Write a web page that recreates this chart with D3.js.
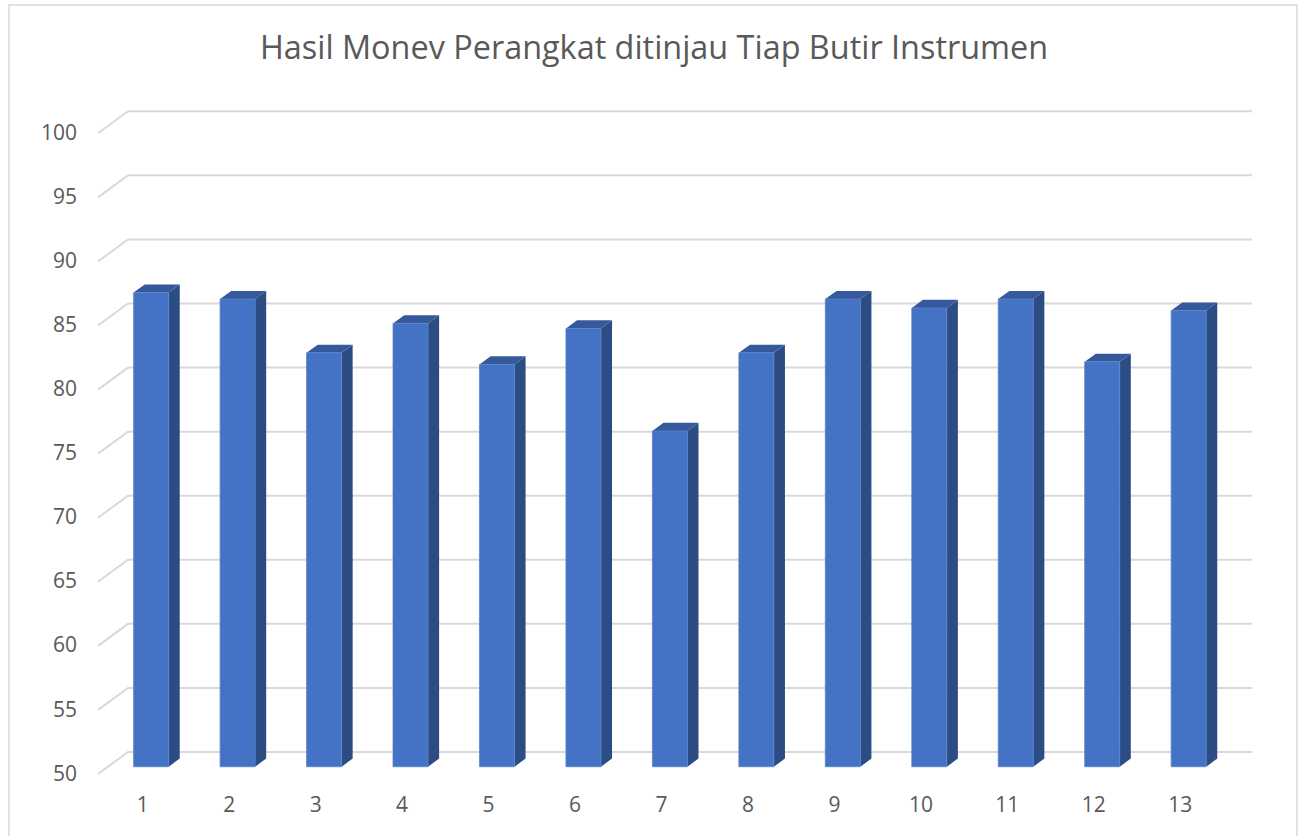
<!DOCTYPE html>
<html>
<head>
<meta charset="utf-8">
<script src="https://cdn.jsdelivr.net/npm/d3@7"></script>
<style>
    body { margin: 0; background: #fff; }
    svg { display: block; font-family: "Open Sans", "Noto Sans", sans-serif; }
</style>
</head>
<body>
<div id="chart-div"></div>
<script>
//---------------------------------//
// Chart data                      //
//---------------------------------//

const chartTitle = 'Hasil Monev Perangkat ditinjau Tiap Butir Instrumen';
const categories = ['1', '2', '3', '4', '5', '6', '7', '8', '9', '10', '11', '12', '13'];
const values = [87.0, 86.5, 82.3, 84.6, 81.4, 84.2, 76.2, 82.3, 86.5, 85.8, 86.5, 81.6, 85.6];
const yTicks = [50, 55, 60, 65, 70, 75, 80, 85, 90, 95, 100];

window.Vis = window.Vis || {};

Vis.init = function() {
    Vis.setup.initConsts();
    Vis.setup.initGraph();

    Vis.core.drawFrame();
    Vis.core.drawGrid();
    Vis.core.drawBars();
    Vis.core.drawLabels();
};

Vis.setup = {
    initConsts: function() {
        Vis.width = 1299;
        Vis.height = 836;

        // 3d offset of the floor, front edge -> back wall
        Vis.depthX = 30;
        Vis.depthY = -22;

        // bars sit between these depth fractions
        Vis.barFront = 0.33;
        Vis.barBack = 0.70;
        Vis.barWidth = 35;

        Vis.gridColor = '#d9d9d9';
        Vis.textColor = '#595959';
    },

    initGraph: function() {
        Vis.svg = d3.select('#chart-div')
                    .append('svg')
                     .attr('width', Vis.width)
                     .attr('height', Vis.height);

        // scales for the front plane
        Vis.x = d3.scaleBand()
                  .domain(categories)
                  .range([98, 1222]);
        Vis.y = d3.scaleLinear()
                  .domain([50, 100])
                  .range([774, 133.3]);
    },
};

Vis.helpers = {
    // project (x on front plane, value, depth 0..1) to screen
    pt: function(x, v, z) {
        return [x + Vis.depthX*z, Vis.y(v) + Vis.depthY*z];
    },

    poly: function(points) {
        return 'M' + points.map(p => p.join(',')).join('L') + 'Z';
    },
};

Vis.core = {
    drawFrame: function() {
        Vis.svg.append('rect')
               .attr('x', 9).attr('y', 5)
               .attr('width', 1288).attr('height', 850)
               .attr('fill', 'none')
               .attr('stroke', Vis.gridColor)
               .attr('stroke-width', 1.5);

        Vis.svg.append('text')
               .attr('x', 654).attr('y', 59)
               .attr('text-anchor', 'middle')
               .attr('fill', Vis.textColor)
               .style('font-size', '32.4px')
               .text(chartTitle);
    },

    drawGrid: function() {
        const x0 = Vis.x.range()[0];
        const x1 = Vis.x.range()[1];

        Vis.svg.append('g')
               .selectAll('path')
               .data(yTicks)
               .join('path')
                .attr('d', function(v) {
                    const a = Vis.helpers.pt(x0, v, 0);
                    const b = Vis.helpers.pt(x0, v, 1);
                    const c = Vis.helpers.pt(x1, v, 1);
                    return 'M' + a + 'L' + b + 'L' + c;
                })
                .attr('fill', 'none')
                .attr('stroke', Vis.gridColor)
                .attr('stroke-width', 2);
    },

    drawBars: function() {
        const zf = Vis.barFront;
        const zb = Vis.barBack;
        const pad = (Vis.x.bandwidth() - Vis.barWidth) / 2;

        const bars = Vis.svg.append('g')
                            .selectAll('g')
                            .data(categories.map((c, i) => ({cat: c, val: values[i]})))
                            .join('g');

        // side face (right)
        bars.append('path')
            .attr('d', function(d) {
                const xr = Vis.x(d.cat) + pad + Vis.barWidth;
                return Vis.helpers.poly([
                    Vis.helpers.pt(xr, 50, zf), Vis.helpers.pt(xr, d.val, zf),
                    Vis.helpers.pt(xr, d.val, zb), Vis.helpers.pt(xr, 50, zb)
                ]);
            })
            .attr('fill', '#2c4c84');

        // top face
        bars.append('path')
            .attr('d', function(d) {
                const xl = Vis.x(d.cat) + pad;
                const xr = xl + Vis.barWidth;
                return Vis.helpers.poly([
                    Vis.helpers.pt(xl, d.val, zf), Vis.helpers.pt(xr, d.val, zf),
                    Vis.helpers.pt(xr, d.val, zb), Vis.helpers.pt(xl, d.val, zb)
                ]);
            })
            .attr('fill', '#35599b');

        // front face
        bars.append('path')
            .attr('d', function(d) {
                const xl = Vis.x(d.cat) + pad;
                const xr = xl + Vis.barWidth;
                return Vis.helpers.poly([
                    Vis.helpers.pt(xl, 50, zf), Vis.helpers.pt(xr, 50, zf),
                    Vis.helpers.pt(xr, d.val, zf), Vis.helpers.pt(xl, d.val, zf)
                ]);
            })
            .attr('fill', '#4472c4')
            .attr('stroke', '#5a84cc')
            .attr('stroke-width', 0.8);
    },

    drawLabels: function() {
        // y axis labels
        Vis.svg.append('g')
               .selectAll('text')
               .data(yTicks)
               .join('text')
                .attr('x', 77)
                .attr('y', d => Vis.y(d) + 1)
                .attr('text-anchor', 'end')
                .attr('dominant-baseline', 'middle')
                .attr('fill', Vis.textColor)
                .style('font-size', '21px')
                .text(d => d);

        // category labels
        Vis.svg.append('g')
               .selectAll('text')
               .data(categories)
               .join('text')
                .attr('x', d => Vis.x(d) + Vis.x.bandwidth()/2 + 1.5)
                .attr('y', 812)
                .attr('text-anchor', 'middle')
                .attr('fill', Vis.textColor)
                .style('font-size', '21px')
                .text(d => d);
    },
};

document.addEventListener('DOMContentLoaded', Vis.init);
</script>
</body>
</html>
